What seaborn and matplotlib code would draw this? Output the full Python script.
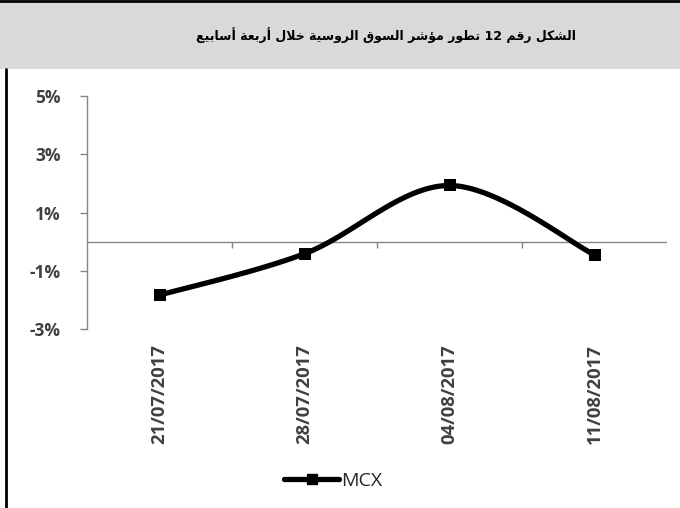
import numpy as np
import pandas as pd
import matplotlib
matplotlib.use("Agg")
import matplotlib.pyplot as plt
from matplotlib.lines import Line2D
from matplotlib.patches import Rectangle
import seaborn as sns

# Data
dates = ["21/07/2017", "28/07/2017", "04/08/2017", "11/08/2017"]
mcx_values = [-1.83, -0.41, 1.93, -0.45]
y_ticks = [-3, -1, 1, 3, 5]
series_name = "MCX"
title_text = "الشكل رقم 12 تطور مؤشر السوق الروسية خلال أربعة أسابيع"

# Arabic presentation forms: isolated, final, initial, medial
FORMS = {
    "\u0627": ("\uFE8D", "\uFE8E", None, None),
    "\u0623": ("\uFE83", "\uFE84", None, None),
    "\u0624": ("\uFE85", "\uFE86", None, None),
    "\u0628": ("\uFE8F", "\uFE90", "\uFE91", "\uFE92"),
    "\u0629": ("\uFE93", "\uFE94", None, None),
    "\u062A": ("\uFE95", "\uFE96", "\uFE97", "\uFE98"),
    "\u062E": ("\uFEA5", "\uFEA6", "\uFEA7", "\uFEA8"),
    "\u0631": ("\uFEAD", "\uFEAE", None, None),
    "\u0633": ("\uFEB1", "\uFEB2", "\uFEB3", "\uFEB4"),
    "\u0634": ("\uFEB5", "\uFEB6", "\uFEB7", "\uFEB8"),
    "\u0637": ("\uFEC1", "\uFEC2", "\uFEC3", "\uFEC4"),
    "\u0639": ("\uFEC9", "\uFECA", "\uFECB", "\uFECC"),
    "\u0642": ("\uFED5", "\uFED6", "\uFED7", "\uFED8"),
    "\u0643": ("\uFED9", "\uFEDA", "\uFEDB", "\uFEDC"),
    "\u0644": ("\uFEDD", "\uFEDE", "\uFEDF", "\uFEE0"),
    "\u0645": ("\uFEE1", "\uFEE2", "\uFEE3", "\uFEE4"),
    "\u0648": ("\uFEED", "\uFEEE", None, None),
    "\u064A": ("\uFEF1", "\uFEF2", "\uFEF3", "\uFEF4"),
}
LAM_ALEF = {"\u0627": ("\uFEFB", "\uFEFC"), "\u0623": ("\uFEF7", "\uFEF8")}


def shape_word(word):
    if not any(c in FORMS for c in word):
        return word
    units = []
    i = 0
    while i < len(word):
        if word[i] == "\u0644" and i + 1 < len(word) and word[i + 1] in LAM_ALEF:
            units.append(("LA", word[i + 1]))
            i += 2
        else:
            units.append(word[i])
            i += 1

    def joins_next(u):
        return not isinstance(u, tuple) and u in FORMS and FORMS[u][2] is not None

    out = []
    for k, u in enumerate(units):
        prev_c = k > 0 and joins_next(units[k - 1])
        if isinstance(u, tuple):
            out.append(LAM_ALEF[u[1]][1 if prev_c else 0])
            continue
        next_c = k < len(units) - 1 and joins_next(u)
        f = FORMS[u]
        if prev_c and next_c:
            out.append(f[3])
        elif prev_c:
            out.append(f[1])
        elif next_c:
            out.append(f[2])
        else:
            out.append(f[0])
    return "".join(out)[::-1]


def visual_arabic(text):
    return " ".join(shape_word(w) for w in text.split(" ")[::-1])


# Excel-like smoothed line (Catmull-Rom through the data points)
def smooth(xs, ys, n=40):
    pts = np.column_stack([xs, ys]).astype(float)
    ext = np.vstack([pts[0], pts, pts[-1]])
    out = []
    for i in range(1, len(ext) - 2):
        p0, p1, p2, p3 = ext[i - 1], ext[i], ext[i + 1], ext[i + 2]
        c1 = p1 + (p2 - p0) / 6
        c2 = p2 - (p3 - p1) / 6
        t = np.linspace(0, 1, n)[:, None]
        seg = ((1 - t) ** 3) * p1 + 3 * ((1 - t) ** 2) * t * c1 + 3 * (1 - t) * t ** 2 * c2 + t ** 3 * p2
        out.append(seg)
    return np.vstack(out)


x_pos = np.arange(len(dates))
curve = smooth(x_pos, mcx_values)
curve_df = pd.DataFrame({"x": curve[:, 0], "y": curve[:, 1]})
points_df = pd.DataFrame({"x": x_pos, "y": mcx_values})

sns.set_style("white")
plt.rcParams["font.family"] = ["Open Sans", "DejaVu Sans"]

fig = plt.figure(figsize=(6.8, 5.08), dpi=100)
ax = fig.add_axes([0.128, 0.352, 0.853, 0.459])

# title band and frame
fig.patches.append(Rectangle((0, 0.864), 1, 0.136, transform=fig.transFigure,
                             facecolor="#d9d9d9", edgecolor="none", zorder=0))
fig.add_artist(Line2D([0, 1], [0.998, 0.998], transform=fig.transFigure, color="black", lw=2))
fig.add_artist(Line2D([0.0095, 0.0095], [0, 0.864], transform=fig.transFigure, color="black", lw=2))
fig.text(0.568, 0.931, visual_arabic(title_text), ha="center", va="center",
         fontsize=9, fontweight="bold", family=["DejaVu Sans"], color="black")

sns.lineplot(data=curve_df, x="x", y="y", ax=ax, color="black", lw=3.8, sort=False,
             estimator=None, zorder=3)
sns.scatterplot(data=points_df, x="x", y="y", ax=ax, marker="s", s=65, color="black",
                edgecolor="black", linewidth=0, zorder=4)

ax.set_xlim(-0.5, len(dates) - 0.5)
ax.set_ylim(-3, 5)
ax.set_xlabel("")
ax.set_ylabel("")

for s in ["top", "right", "bottom"]:
    ax.spines[s].set_visible(False)
ax.spines["left"].set_color("#868686")
ax.spines["left"].set_linewidth(1)
ax.axhline(0, color="#868686", lw=1, zorder=1)
ax.vlines(x_pos[:-1] + 0.5, -0.2, 0, color="#868686", lw=1, zorder=1)

ax.set_yticks(y_ticks)
ax.set_yticklabels([f"{v}%" for v in y_ticks], fontsize=12.5, fontweight="bold", color="#404040")
ax.tick_params(axis="y", left=True, length=5, width=1, color="#868686", pad=14)

ax.set_xticks(x_pos)
ax.set_xticklabels(dates, rotation=90, fontsize=13.3, fontweight="bold", color="#404040")
ax.tick_params(axis="x", bottom=True, length=0, pad=11)

handle = Line2D([], [], color="black", lw=3.8, marker="s", markersize=7.5)
fig.legend([handle], [series_name], loc="center", bbox_to_anchor=(0.49, 0.053),
           frameon=False, fontsize=14, handlelength=2.8, handletextpad=0.1,
           labelcolor="#262626")

fig.savefig("out.png", dpi=100, facecolor="white")
